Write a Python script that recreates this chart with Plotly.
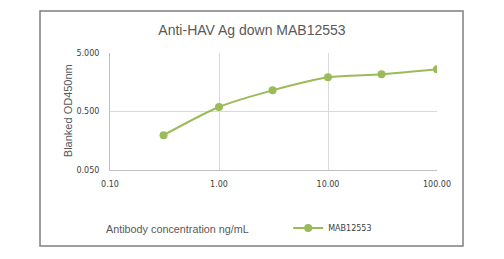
import plotly.graph_objects as go
import math

# Data
concentration = [0.31, 1.0, 3.1, 10.0, 31.0, 100.0]
od450 = [0.197, 0.598, 1.15, 1.92, 2.16, 2.63]
series_name = "MAB12553"
x_tick_vals = [0.1, 1, 10, 100]
x_tick_text = ["0.10", "1.00", "10.00", "100.00"]
y_tick_vals = [0.05, 0.5, 5]
y_tick_text = ["0.050", "0.500", "5.000"]

GREEN = "#9BBB59"
GRID = "#d9d9d9"
TXT = "#595959"

fig = go.Figure()
fig.add_trace(go.Scatter(
    x=concentration, y=od450, mode="lines+markers", name=series_name,
    line=dict(color=GREEN, width=2, shape="spline", smoothing=0.8),
    marker=dict(color=GREEN, size=8),
))

fig.update_layout(
    width=504, height=259,
    margin=dict(l=110, r=67, t=53, b=89),
    paper_bgcolor="white", plot_bgcolor="white",
    title=dict(text="Anti-HAV Ag down MAB12553", x=0.5, xref="container", xanchor="center",
               y=1 - 30 / 259, yref="container", yanchor="middle",
               font=dict(family="Liberation Sans", size=14, color=TXT)),
    xaxis=dict(type="log", range=[-1, 2], tickvals=x_tick_vals, ticktext=x_tick_text,
               showgrid=True, gridcolor=GRID, gridwidth=1,
               showline=True, linecolor="#bfbfbf", linewidth=1,
               ticks="outside", ticklen=6, tickcolor="rgba(0,0,0,0)",
               tickfont=dict(family="DejaVu Sans", size=8, color="#404040"),
               zeroline=False, fixedrange=True),
    yaxis=dict(type="log", range=[math.log10(0.05), math.log10(5)],
               tickvals=y_tick_vals, ticktext=y_tick_text,
               showgrid=True, gridcolor=GRID, gridwidth=1,
               showline=True, linecolor="#bfbfbf", linewidth=1,
               ticks="outside", ticklen=8, tickcolor="rgba(0,0,0,0)",
               tickfont=dict(family="DejaVu Sans", size=8, color="#404040"),
               zeroline=False, fixedrange=True),
    showlegend=True,
    legend=dict(x=0.545, xanchor="left", y=-0.496, yanchor="middle",
                font=dict(family="DejaVu Sans", size=8, color="#404040"),
                bgcolor="rgba(0,0,0,0)"),
)

# x axis title (left aligned like the original)
fig.add_annotation(text="Antibody concentration ng/mL", xref="paper", yref="paper",
                   x=-0.018, y=-0.504, xanchor="left", yanchor="middle", showarrow=False,
                   font=dict(family="Liberation Sans", size=10.8, color=TXT))
# y axis title
fig.add_annotation(text="Blanked OD450nm", xref="paper", yref="paper",
                   x=-0.128, y=0.504, xanchor="center", yanchor="middle", showarrow=False,
                   textangle=-90,
                   font=dict(family="Liberation Sans", size=11, color=TXT))
# outer chart border
fig.add_shape(type="rect", xref="paper", yref="paper",
              x0=(40 - 110) / 327, x1=(463 - 110) / 327,
              y0=(170 - 246) / 117, y1=(170 - 11) / 117,
              line=dict(color="#7f7f7f", width=1.5), fillcolor="rgba(0,0,0,0)", layer="below")

fig.write_html("out.html")
